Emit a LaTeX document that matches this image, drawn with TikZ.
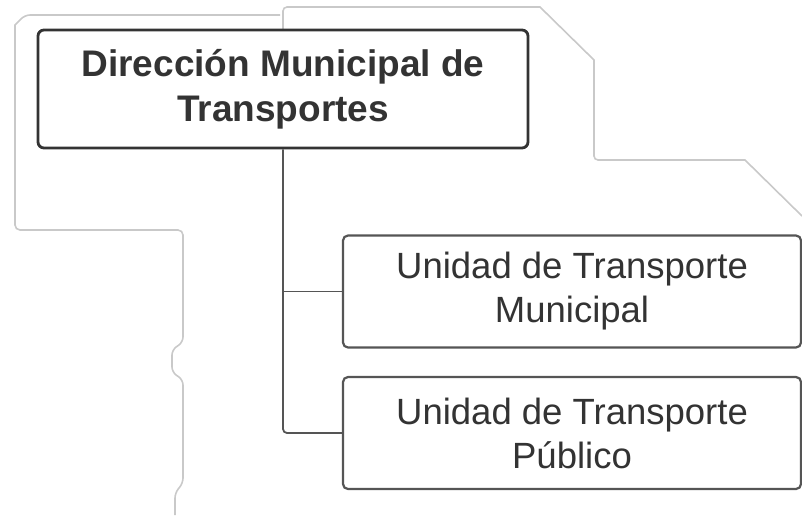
\documentclass[tikz,border=0pt]{standalone}
\usepackage{fontspec}
\setmainfont{Liberation Sans}
\definecolor{bgline}{HTML}{C9C9C9}
\definecolor{boxline}{HTML}{333333}
\definecolor{childline}{HTML}{555555}
\definecolor{txt}{HTML}{333333}
\begin{document}
\begin{tikzpicture}[x=1pt,y=-1pt,
  headbox/.style={draw=boxline, line width=2.8pt, rounded corners=6pt, fill=white,
    minimum width=490pt, minimum height=118pt, align=center, text=txt,
    font=\fontsize{37}{45}\selectfont\bfseries, inner sep=0pt},
  unitbox/.style={draw=childline, line width=2.2pt, rounded corners=5pt, fill=white,
    minimum width=458pt, minimum height=112pt, align=center, text=txt,
    font=\fontsize{36.5}{44}\selectfont, inner sep=0pt},
  bgshape/.style={draw=bgline, line width=1.6pt},
  link/.style={draw=childline, line width=1.8pt}
]
\useasboundingbox (0,0) rectangle (802,515);
% background outline (faint)
\draw[bgshape, rounded corners=5pt] (280,15) -- (25,15) [sharp corners] -- (15,25) [rounded corners=5pt] -- (15,230) -- (183,230) -- (183,342)
  -- (172,350) -- (172,372) -- (183,380) -- (183,483) -- (175,493) -- (175,515);
\draw[bgshape, rounded corners=4pt] (283,30) -- (283,7) [sharp corners] -- (540,7) -- (594,60) [rounded corners=4pt] -- (594,160) [sharp corners] -- (745,160) -- (802,216);
% nodes
\node[headbox] (dir) at (283,89) {Dirección Municipal de\\Transportes};
\node[unitbox] (utm) at (572,291.5) {Unidad de Transporte\\Municipal};
\node[unitbox] (utp) at (572,433) {Unidad de Transporte\\Público};
% connectors
\coordinate (branch) at (dir.south |- utm.west);
\draw[link, rounded corners=4pt] (dir.south) -- (dir.south |- utp.west) -- (utp.west);
\draw[link] (branch) -- (utm.west);
\end{tikzpicture}
\end{document}
